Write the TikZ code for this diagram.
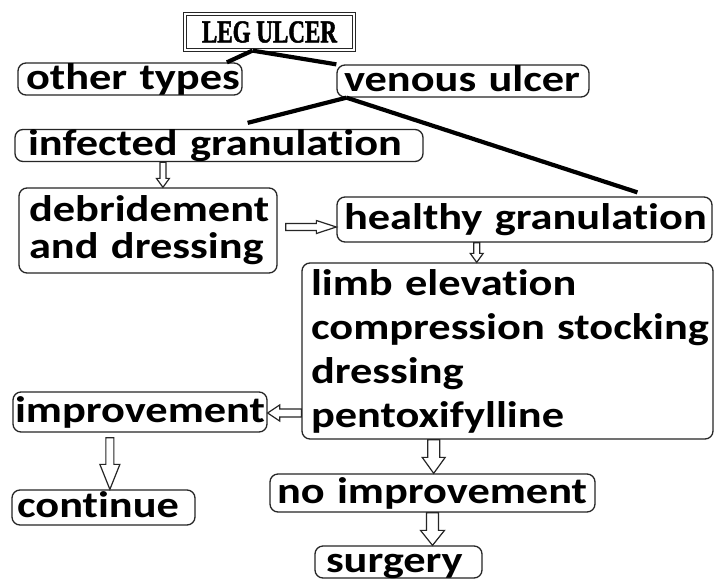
\documentclass[tikz,border=0pt]{standalone}
\usepackage{fontspec}
\setmainfont{Carlito}[FakeStretch=1.2, Ligatures=NoCommon]
\newfontfamily\legfont{Liberation Serif}[FakeStretch=0.72, FakeBold=1.5]
\usetikzlibrary{calc}
\begin{document}
\begin{tikzpicture}[x=1pt,y=-1pt,
  basebox/.style={draw=black!85, line width=1.3pt, rounded corners=8pt, inner ysep=0pt,
    align=left, font=\bfseries\fontsize{37}{37}\selectfont},
  box/.style={basebox, text height=26pt, text depth=6pt},
  tline/.style={line width=4.2pt, black},
  harrow/.style n args={3}{draw=black!85, line width=1.2pt, fill=white, line join=miter,
    to path={let \p1=(\tikztostart), \p2=(\tikztotarget),
      \n1={atan2(\y2-\y1,\x2-\x1)}, \n2={veclen(\x2-\x1,\y2-\y1)} in
      ($(\p1)+(\n1+90:#1pt)$)
      -- ($(\p1)+(\n1:\n2-#3pt)+(\n1+90:#1pt)$)
      -- ($(\p1)+(\n1:\n2-#3pt)+(\n1+90:#2pt)$)
      -- (\p2)
      -- ($(\p1)+(\n1:\n2-#3pt)+(\n1-90:#2pt)$)
      -- ($(\p1)+(\n1:\n2-#3pt)+(\n1-90:#1pt)$)
      -- ($(\p1)+(\n1-90:#1pt)$) -- cycle}}
]
\useasboundingbox[fill=white] (0,0) rectangle (714,581);

% nodes
\node[draw=black!85, double, double distance=2.5pt, line width=1.2pt,
  minimum width=169pt, minimum height=36pt, inner sep=0pt] (leg) at (269.5,32)
  {\legfont\bfseries\fontsize{32}{32}\selectfont LEG ULCER};
\node[box, inner xsep=8pt, text width=208pt] (other) at (130,79) {\mbox{other types}};
\node[box, inner xsep=7pt, text width=238pt] (venous) at (463,81) {\mbox{venous ulcer}};
\node[box, inner xsep=13pt, text width=382pt] (infected) at (219,145.5) {\mbox{infected granulation}};
\node[basebox, inner xsep=10pt, text width=238pt, minimum height=85pt] (debr) at (148,230.5)
  {\mbox{debridement}\\\mbox{and dressing}};
\node[box, inner xsep=7pt, text width=361pt, minimum height=45pt] (healthy) at (524.5,219.5)
  {\mbox{healthy granulation}};
\node[basebox, inner xsep=9pt, text width=393pt, minimum height=176pt,
  font=\bfseries\fontsize{37}{44}\selectfont] (big) at (507.5,351)
  {\mbox{limb elevation}\\\mbox{compression stocking}\\\mbox{dressing}\\\mbox{pentoxifylline}};
\node[box, inner xsep=2pt, text width=250pt, minimum height=40pt] (improv) at (140,412) {\mbox{improvement}};
\node[box, inner xsep=5pt, text width=173pt, minimum height=35pt] (cont) at (103.5,507.5) {\mbox{continue}};
\node[box, inner xsep=7pt, text width=311pt, minimum height=38pt] (noimp) at (432.5,493) {\mbox{no improvement}};
\node[box, inner xsep=11pt, text width=145pt, minimum height=31pt] (surg) at (398.5,562) {\mbox{surgery}};

% thick tree lines
\coordinate (legb) at ($(leg.south west)!0.4!(leg.south east)$);
\coordinate (venb) at ($(venous.south west)!0.04!(venous.south east)$);
\draw[tline] (legb) -- ($(other.north west)!0.93!(other.north east)$);
\draw[tline] (legb) -- (venous.north west);
\draw[tline] (venb) -- ($(infected.north west)!0.57!(infected.north east)+(0,-6)$);
\draw[tline] (venb) -- ($(healthy.north west)!0.8!(healthy.north east)+(0,-4)$);

% hollow arrows
\coordinate (a1) at ($(infected.south west)!0.363!(infected.south east)$);
\draw[harrow={3}{6.5}{9}] (a1) to (a1 |- debr.north);
\coordinate (a2) at ($(debr.east)+(8,-3.5)$);
\draw[harrow={3.5}{6.5}{20}] (a2) to (a2 -| healthy.west);
\coordinate (a3) at ($(healthy.south west)!0.373!(healthy.south east)$);
\draw[harrow={3}{6.5}{9}] (a3) to (a3 |- big.north);
\coordinate (a4) at ($(big.west)+(0,62)$);
\draw[harrow={4}{8}{12}] (a4) to (a4 -| improv.east);
\coordinate (a5) at ($(improv.south west)!0.382!(improv.south east)+(0,5)$);
\draw[harrow={4}{10}{25}] (a5) to (a5 |- cont.north);
\coordinate (a6) at ($(big.south west)!0.321!(big.south east)$);
\draw[harrow={6}{11.5}{16}] (a6) to (a6 |- noimp.north);
\draw[harrow={6}{12}{15}] (noimp.south) to (noimp.south |- surg.north);
\end{tikzpicture}
\end{document}
